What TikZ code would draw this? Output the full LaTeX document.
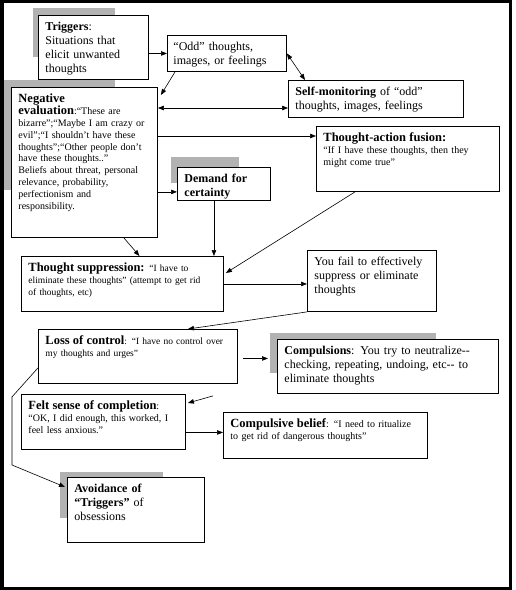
\documentclass[tikz,border=0pt]{standalone}
\usepackage{fontspec}
\setmainfont{Liberation Serif}
\usepackage{tikz}
\usetikzlibrary{calc}
\usetikzlibrary{backgrounds}
\usetikzlibrary{arrows.meta}
\tikzset{cbtbox/.style={rectangle,draw=black,line width=0.9pt,fill=white,anchor=north west,align=left,inner xsep=7pt,inner ysep=3pt,text height=12.5pt,font=\fontsize{12}{13.7}\selectfont}}
\tikzset{smalltxt/.style={font=\fontsize{10}{11.8}\selectfont}}
\tikzset{smallertxt/.style={font=\fontsize{9.5}{11.7}\selectfont}}
\tikzset{shadowfill/.style={fill=black!30}}
\newcommand{\head}[1]{{\fontsize{12.5}{14}\selectfont\bfseries #1}}

\begin{document}
\begin{tikzpicture}[x=1pt,y=-1pt,>={Triangle[length=6pt,width=4.5pt]},line width=0.6pt]
\useasboundingbox (0,0) rectangle (515,590);
\draw[line width=3pt] (2,1.5) rectangle (510.5,588);

\node[cbtbox,text width=96pt,text depth=45.5pt] (trig) at (38,15) {\textbf{Triggers}:\\Situations that\\elicit unwanted\\thoughts};
\node[cbtbox,text width=107pt,text depth=17.5pt,inner xsep=6pt] (odd) at (167,35) {“Odd” thoughts,\\images, or feelings};
\node[cbtbox,text width=161pt,text depth=18.5pt] (selfm) at (288,80) {\textbf{Self-monitoring} of “odd”\\thoughts, images, feelings};
\node[cbtbox,smalltxt,text width=132pt,text depth=131.5pt] (neg) at (11,87) {\head{Negative\\evaluation}:“These are\\bizarre”;“Maybe I am crazy or\\evil”;“I shouldn’t have these\\thoughts”;“Other people don’t\\have these thoughts..”\\Beliefs about threat, personal\\relevance, probability,\\perfectionism and\\responsibility.};
\node[cbtbox,smalltxt,text width=169pt,text depth=46.5pt] (taf) at (316,126) {\head{Thought-action fusion:}\\“If I have these thoughts, then they\\might come true”};
\node[cbtbox,text width=79pt,text depth=14.5pt] (dem) at (177,167) {\textbf{Demand for}\\\textbf{certainty}};
\node[cbtbox,smallertxt,text width=188pt,text depth=36.5pt] (supp) at (21,256) {\head{Thought suppression:} “I have to\\eliminate these thoughts” (attempt to get rid\\of thoughts, etc)};
\node[cbtbox,text width=115pt,text depth=42.5pt] (fail) at (307,250) {You fail to effectively\\suppress or eliminate\\thoughts};
\node[cbtbox,smallertxt,text width=185pt,text depth=35.5pt] (loss) at (38,329) {\head{Loss of control}: “I have no control over\\my thoughts and urges”};
\node[cbtbox,text width=207pt,text depth=35.5pt] (comp) at (277,339) {\textbf{Compulsions}: You try to neutralize-{}-\\checking, repeating, undoing, etc-{}- to\\eliminate thoughts};
\node[cbtbox,smalltxt,text width=150pt,text depth=36.5pt] (felt) at (21,394) {\head{Felt sense of completion}:\\“OK, I did enough, this worked, I\\feel less anxious.”};
\node[cbtbox,smalltxt,text width=190pt,text depth=27.5pt] (belief) at (223,412) {\head{Compulsive belief}: “I need to ritualize\\to get rid of dangerous thoughts”};
\node[cbtbox,text width=123pt,text depth=46.5pt] (avoid) at (67,477) {\textbf{Avoidance of}\\\textbf{“Triggers”} of\\obsessions};

% grey shadows behind some boxes
\begin{scope}[on background layer]
\fill[shadowfill] ($(trig.north west)+(-5,-7)$) rectangle ($(trig.north west)+(77,42)$);
\fill[shadowfill] ($(neg.north west)+(-7,-7)$) rectangle ($(neg.north west)+(104,103)$);
\fill[shadowfill] ($(dem.north west)+(-6,-10)$) rectangle ($(dem.north west)+(62,16)$);
\fill[shadowfill] ($(comp.north west)+(-7,-6)$) rectangle ($(comp.north west)+(159,34)$);
\fill[shadowfill] ($(avoid.north west)+(-7,-5)$) rectangle ($(avoid.north west)+(96,41)$);
\end{scope}

\draw[->] (trig.east |- odd.west) -- (odd.west);
\draw[<->] (odd.east) -- ($(selfm.north west)+(17,0)$);
\draw[->] ($(odd.south west)+(8,0)$) -- ($(neg.north east)+(3,8)$);
\draw[<->] ($(neg.north east)+(0,21)$) -- ($(neg.north east -| selfm.west)+(0,21)$);
\draw[->] ($(neg.north east)+(0,49)$) -- ($(neg.north east -| taf.west)+(0,49)$);
\draw[->] ($(neg.east |- dem.south west)+(0,-9)$) -- ($(dem.south west)+(0,-9)$);
\draw[->] ($(dem.south)+(-10,0)$) -- ($(dem.south |- supp.north)+(-10,0)$);
\draw[->] ($(neg.south east)+(-34,0)$) -- ($(supp.north)+(17,0)$);
\draw[->] ($(taf.south west)+(39,0)$) -- ($(supp.north east)+(2,17)$);
\draw[->] (supp.east) -- (supp.east -| fail.west);
\draw[->] (fail.south west) -- ($(loss.north)+(50,0)$);
\draw[->] ($(loss.east)+(5,2)$) -- ($(loss.east -| comp.west)+(-9,2)$);
\draw[->] ($(comp.south west)+(-64,2)$) -- ($(felt.north east)+(2,9)$);
\draw[->] ($(felt.east |- belief.west)+(0,-3)$) -- ($(belief.west)+(0,-3)$);
\draw[->] ($(loss.south west)+(0,-16)$) -- ($(loss.south west)+(-26,13)$) -- ($(avoid.north west)+(-55,-12)$) -- ($(avoid.north west)+(-2,10)$);

\end{tikzpicture}
\end{document}
